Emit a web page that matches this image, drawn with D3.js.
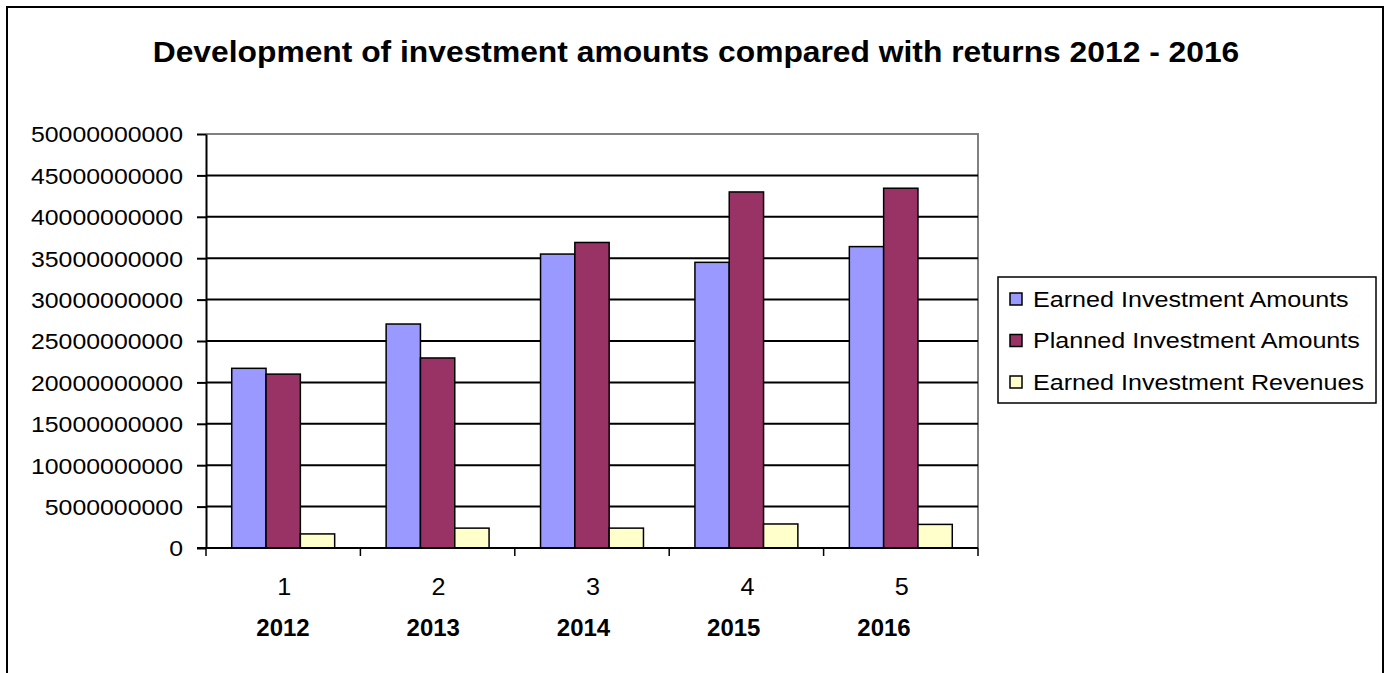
<!DOCTYPE html>
<html>
<head>
<meta charset="utf-8">
<script src="https://cdn.jsdelivr.net/npm/d3@7/dist/d3.min.js"></script>
<style>
  body { margin: 0; background: #fff; }
  text { font-family: "Liberation Sans", Arial, sans-serif; fill: #000; }
</style>
</head>
<body>
<div id="chart"></div>
<script>
var categories = ["1", "2", "3", "4", "5"];
var years = ["2012", "2013", "2014", "2015", "2016"];
var seriesNames = ["Earned Investment Amounts", "Planned Investment Amounts", "Earned Investment Revenues"];
var earnedAmounts = [21700000000, 27050000000, 35500000000, 34500000000, 36400000000];
var plannedAmounts = [21000000000, 22950000000, 36900000000, 43000000000, 43450000000];
var earnedRevenues = [1700000000, 2400000000, 2400000000, 2900000000, 2850000000];
var yTicks = [0, 5000000000, 10000000000, 15000000000, 20000000000, 25000000000,
              30000000000, 35000000000, 40000000000, 45000000000, 50000000000];

var seriesValues = [earnedAmounts, plannedAmounts, earnedRevenues];

function segColor(c) {
    var color = ["#9999FF", "#993366", "#FFFFCC"];
    return color[c % 3];
}

// the source image is a bit stretched sideways, so text gets a horizontal scale
function place(x, y, sx) {
    return "translate(" + x + "," + y + ") scale(" + sx + ",1)";
}

var W = 1387, H = 673;
var plot = { left: 206, top: 134, right: 978, bottom: 548 };

var svg = d3.select("#chart").append("svg")
    .attr("width", W).attr("height", H);

// outer frame
svg.append("rect")
    .attr("x", 7).attr("y", 7).attr("width", 1376).attr("height", 700)
    .attr("fill", "#fff").attr("stroke", "#000").attr("stroke-width", 2);

svg.append("text")
    .attr("transform", place(696, 62, 1.06))
    .attr("text-anchor", "middle")
    .style("font-size", "30px").style("font-weight", "bold")
    .text("Development of investment amounts compared with returns 2012 - 2016");

var x = d3.scaleBand().domain(categories).range([plot.left, plot.right]).paddingInner(0).paddingOuter(0);
var xInner = d3.scaleBand().domain(d3.range(seriesNames.length))
    .range([0, x.bandwidth()]).paddingOuter(0.75).paddingInner(0);
var y = d3.scaleLinear().domain([0, 50000000000]).range([plot.bottom, plot.top]);

// plot border (grey) top + right
svg.append("path")
    .attr("d", "M" + plot.left + "," + plot.top + "H" + plot.right + "V" + plot.bottom)
    .attr("fill", "none").attr("stroke", "#808080").attr("stroke-width", 2);

// gridlines
svg.append("g").selectAll("line").data(yTicks.slice(1, -1)).enter().append("line")
    .attr("x1", plot.left).attr("x2", plot.right)
    .attr("y1", function(d) { return y(d); }).attr("y2", function(d) { return y(d); })
    .attr("stroke", "#000").attr("stroke-width", 2);

// bars
var groups = svg.append("g").selectAll("g").data(categories).enter().append("g")
    .attr("transform", function(d) { return "translate(" + x(d) + ",0)"; });

groups.selectAll("rect").data(function(d, i) {
        return seriesValues.map(function(s, j) { return { s: j, v: s[i] }; });
    }).enter().append("rect")
    .attr("x", function(d) { return xInner(d.s); })
    .attr("y", function(d) { return y(d.v); })
    .attr("width", xInner.bandwidth())
    .attr("height", function(d) { return plot.bottom - y(d.v); })
    .style("fill", function(d) { return segColor(d.s); })
    .attr("stroke", "#000").attr("stroke-width", 1.5);

// y axis
var yAxis = d3.axisLeft(y).tickValues(yTicks).tickFormat(d3.format("d")).tickSizeOuter(0).tickSizeInner(9).tickPadding(14);
var gy = svg.append("g").attr("transform", "translate(" + plot.left + ",0)").call(yAxis);
gy.select(".domain").attr("stroke", "#000").attr("stroke-width", 2);
gy.selectAll(".tick line").attr("stroke", "#000").attr("stroke-width", 2);
gy.selectAll(".tick text")
    .attr("x", 0).attr("dy", "0.36em")
    .attr("transform", place(-23, 0, 1.13))
    .style("font-size", "22px").attr("font-family", null);

// x axis
svg.append("line")
    .attr("x1", plot.left - 9).attr("x2", plot.right)
    .attr("y1", plot.bottom).attr("y2", plot.bottom)
    .attr("stroke", "#000").attr("stroke-width", 2);
var xTicks = categories.map(function(d) { return x(d); }).concat([plot.right]);
svg.append("g").selectAll("line").data(xTicks).enter().append("line")
    .attr("x1", function(d) { return d; }).attr("x2", function(d) { return d; })
    .attr("y1", plot.bottom).attr("y2", plot.bottom + 8)
    .attr("stroke", "#000").attr("stroke-width", 1.5);

svg.append("g").selectAll("text").data(categories).enter().append("text")
    .attr("transform", function(d) { return place(x(d) + x.bandwidth() / 2 + 1, 595, 1.05); })
    .attr("text-anchor", "middle")
    .style("font-size", "24px")
    .text(function(d) { return d; });

// year row sits in its own text box, slightly narrower than the category axis
var xYear = d3.scalePoint().domain(years).range([283, 884]);
svg.append("g").selectAll("text").data(years).enter().append("text")
    .attr("transform", function(d) { return place(xYear(d), 636, 1.0); })
    .attr("text-anchor", "middle")
    .style("font-size", "24px").style("font-weight", "bold")
    .text(function(d) { return d; });

// legend
var leg = svg.append("g");
leg.append("rect")
    .attr("x", 998).attr("y", 277).attr("width", 378).attr("height", 126)
    .attr("fill", "#fff").attr("stroke", "#000").attr("stroke-width", 1.5);
var items = leg.selectAll("g").data(seriesNames).enter().append("g")
    .attr("transform", function(d, i) { return "translate(1010," + (299 + i * 41.5) + ")"; });
items.append("rect")
    .attr("x", 0).attr("y", -6).attr("width", 12).attr("height", 12)
    .style("fill", function(d, i) { return segColor(i); })
    .attr("stroke", "#000").attr("stroke-width", 1.5);
items.append("text")
    .attr("transform", place(23, 0, 1.17))
    .attr("dy", "0.36em")
    .style("font-size", "21.5px")
    .text(function(d) { return d; });
</script>
</body>
</html>
